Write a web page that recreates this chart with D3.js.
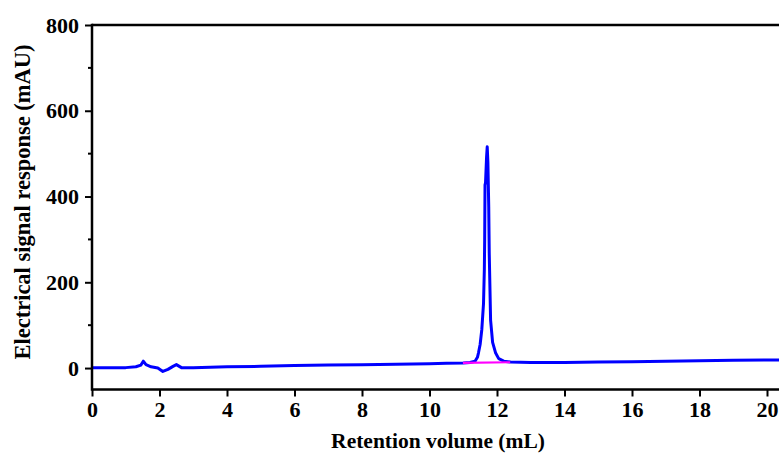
<!DOCTYPE html>
<html><head><meta charset="utf-8">
<script src="https://cdn.jsdelivr.net/npm/d3@7"></script>
<style>body{margin:0;background:#fff;} svg{display:block;}</style>
</head><body>
<svg id="c" width="779" height="457"></svg>
<script>
const volume = [0,0.5,1.0,1.3,1.45,1.52,1.6,1.75,1.95,2.1,2.25,2.4,2.5,2.65,3.0,3.5,4,5,6,7,8,9,10,10.5,11,11.2,11.35,11.42,11.45,11.5,11.55,11.6,11.625,11.635,11.645,11.66,11.69,11.71,11.73,11.755,11.77,11.81,11.87,11.96,12.05,12.2,12.4,13,14,15,16,17,18,19,20,20.4];
const signal = [0.5,0.5,1,3,7,16,8,3,0,-8,-3,4,8,1,1,2,3,4,6,7,8,9,10,11,12,13,16,25,35,55,90,150,230,300,427,432,490,516,480,376,268,112,60,35,22,16,14,13,13,14,15,16,17,18,19,19];
const baseVol = [10.99, 12.39];
const baseSig = [12, 13.5];
const xTicks = [0,2,4,6,8,10,12,14,16,18,20];
const yTicks = [0,200,400,600,800];
const yMinor = [100,300,500,700];

const svg = d3.select("#c");
const x = d3.scaleLinear().domain([0,20]).range([92,767]);
const y = d3.scaleLinear().domain([-50,800]).range([389.5,25]);
const font = "'Liberation Serif','Times New Roman',serif";

// lines
const line = d3.line().x((d,i)=>x(volume[i])).y((d,i)=>y(signal[i]));
svg.append("path").datum(signal).attr("d",line).attr("fill","none")
  .attr("stroke","#0000ff").attr("stroke-width",3).attr("stroke-linejoin","round");
const bl = d3.line().x((d,i)=>x(baseVol[i])).y((d,i)=>y(baseSig[i]));
svg.append("path").datum(baseSig).attr("d",bl).attr("fill","none")
  .attr("stroke","#ff00ff").attr("stroke-width",2.2);

// frame: top and left/bottom
svg.append("line").attr("x1",x(0)).attr("x2",800).attr("y1",y(800)).attr("y2",y(800))
  .attr("stroke","#000").attr("stroke-width",2.5);

const xAxis = svg.append("g").attr("transform",`translate(0,${y(-50)})`)
  .call(d3.axisBottom(x).tickValues(xTicks).tickSize(7).tickPadding(5).tickFormat(d3.format("d")));
xAxis.select(".domain").remove();
xAxis.append("line").attr("x1",x(0)).attr("x2",800).attr("stroke","#000").attr("stroke-width",2.5);

const yAxis = svg.append("g").attr("transform",`translate(${x(0)},0)`)
  .call(d3.axisLeft(y).tickValues(yTicks).tickSize(7).tickPadding(6).tickFormat(d3.format("d")));
yAxis.select(".domain").remove();
yAxis.append("line").attr("y1",y(800)-1.25).attr("y2",y(-50)+1.25).attr("stroke","#000").attr("stroke-width",2.5);
yAxis.selectAll(".minor").data(yMinor).join("line").attr("class","minor")
  .attr("x1",-4).attr("x2",0).attr("y1",d=>y(d)).attr("y2",d=>y(d)).attr("stroke","#000").attr("stroke-width",2);

svg.selectAll(".tick line").attr("stroke","#000").attr("stroke-width",2);
svg.selectAll(".tick text").attr("font-family",font).attr("font-weight","bold")
  .attr("font-size",22).attr("fill","#000");

svg.append("text").attr("x",438).attr("y",448).attr("text-anchor","middle")
  .attr("font-family",font).attr("font-weight","bold").attr("font-size",21.5)
  .text("Retention volume (mL)");
svg.append("text").attr("transform","translate(30,202) rotate(-90)").attr("text-anchor","middle")
  .attr("font-family",font).attr("font-weight","bold").attr("font-size",22.5)
  .text("Electrical signal response (mAU)");
</script>
</body></html>
